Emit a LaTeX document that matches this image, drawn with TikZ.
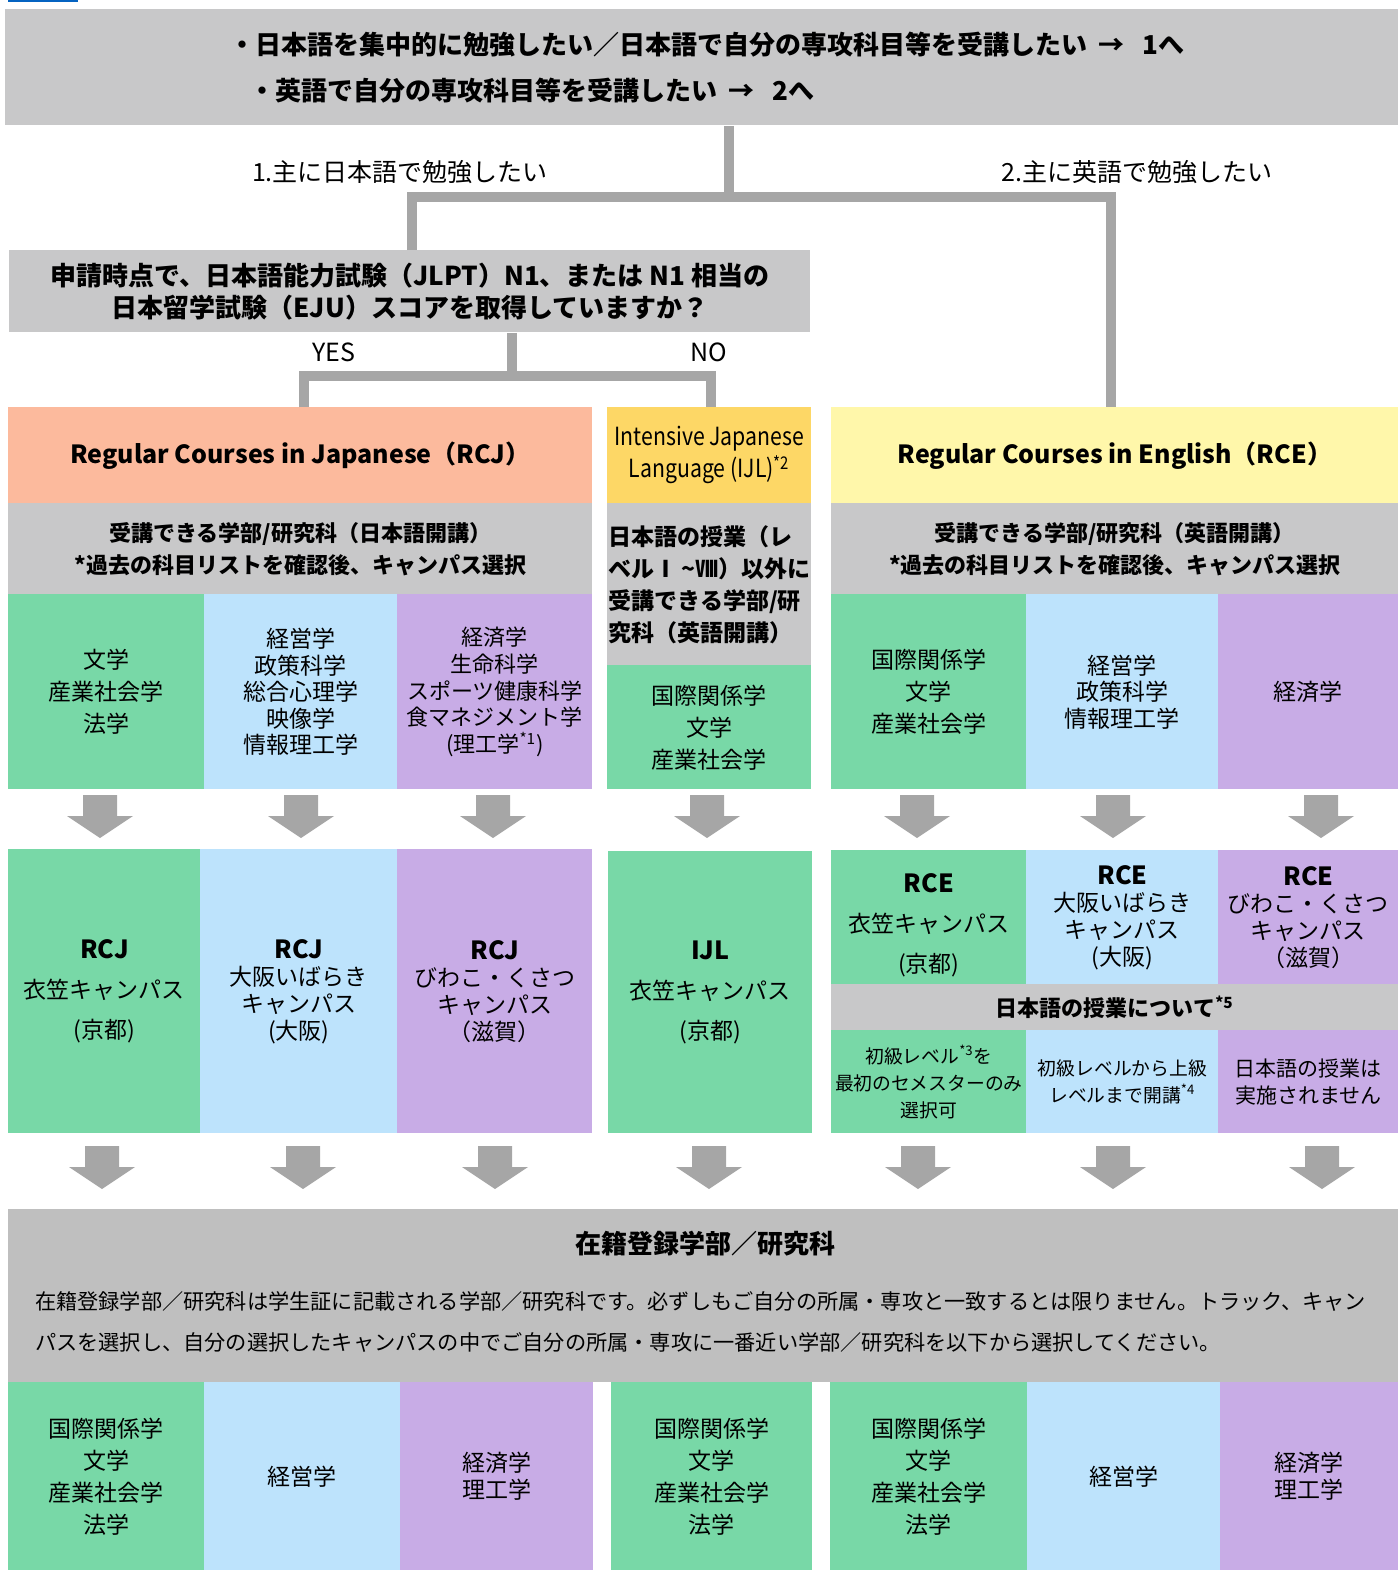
\documentclass[tikz,border=0pt]{standalone}
\usepackage{fontspec}
\setmainfont{Noto Sans CJK JP}
\newfontfamily\narrowfont[FakeStretch=0.85]{Noto Sans CJK JP}
\usetikzlibrary{positioning}

\definecolor{boxgrey}{HTML}{C8C8C9}
\definecolor{notegrey}{HTML}{BFBFBF}
\definecolor{linegrey}{HTML}{A6A6A6}
\definecolor{campgreen}{HTML}{78D8A7}
\definecolor{campblue}{HTML}{BDE3FC}
\definecolor{camppurple}{HTML}{C8ACE6}
\definecolor{rcjsalmon}{HTML}{FCBA9D}
\definecolor{ijlgold}{HTML}{FDD766}
\definecolor{rcecream}{HTML}{FFF7AA}
\definecolor{linkblue}{HTML}{0563C1}

\newcommand{\fs}[2]{\fontsize{#1}{#2}\selectfont}

\begin{document}
\begin{tikzpicture}[x=0.5pt, y=-0.5pt,
    box/.style 2 args={anchor=north west, inner sep=0pt, minimum width=#1*0.5pt, minimum height=#2*0.5pt, align=center},
    conn/.style={draw=linegrey, line width=4.75pt},
    lbl/.style={font=\fs{12.5}{15}},
    head/.style={font=\fs{12.5}{16}\bfseries},
    sub/.style={font=\fs{11}{16}\bfseries},
    dept/.style={font=\fs{11.5}{16}},
    deptn/.style={font=\fs{11.5}{13.3}},
    camp/.style={font=\fs{11.5}{20}},
    campn/.style={font=\fs{11.5}{13.5}},
    jclass/.style={font=\fs{9.4}{13.5}}]
\useasboundingbox (0,0) rectangle (1400,1570);
\fill[linkblue] (8,0) rectangle (78,2);

\node[box={1393}{116}, fill=boxgrey] (top) at (5,9) {};
\node[anchor=west, font=\fs{13}{16}\bfseries] (want1) at (222,45) {・日本語を集中的に勉強したい／日本語で自分の専攻科目等を受講したい\ \ →\ \ \ 1へ};
\node[anchor=west, font=\fs{13}{16}\bfseries] (want2) at (242,91) {・英語で自分の専攻科目等を受講したい\ \ →\ \ \ 2へ};

\node[box={801}{82}, fill=boxgrey, font=\fs{13}{16}\bfseries] (ask) at (9,250) {申請時点で、日本語能力試験（JLPT）N1、または N1 相当の\\日本留学試験（EJU）スコアを取得していますか？};

% first row: tracks
\node[box={584}{96}, fill=rcjsalmon, head] (rcjhead) at (8,407) {Regular Courses in Japanese（RCJ）};
\node[box={584}{91}, fill=boxgrey, sub] (rcjsub) at (8,503) {受講できる学部/研究科（日本語開講）\\*過去の科目リストを確認後、キャンパス選択};
\node[box={196}{195}, fill=campgreen, dept] (rcjg) at (8,594) {文学\\産業社会学\\法学};
\node[box={193}{195}, fill=campblue, deptn] (rcjb) at (204,594) {経営学\\政策科学\\総合心理学\\映像学\\情報理工学};
\node[box={195}{195}, fill=camppurple, font=\fs{11}{13.3}] (rcjp) at (397,594) {経済学\\生命科学\\スポーツ健康科学\\食マネジメント学\\(理工学\textsuperscript{*1})};

\node[box={204}{96}, fill=ijlgold, font=\fs{12.5}{16}\narrowfont] (ijlhead) at (607,407) {Intensive Japanese\\Language (IJL)\textsuperscript{*2}};
\node[box={204}{162}, fill=boxgrey, font=\fs{11.5}{16}\bfseries, align=left] (ijlsub) at (607,503) {日本語の授業（レ\\ベルⅠ\,\textasciitilde Ⅷ）以外に\\受講できる学部/研\\究科（英語開講）};
\node[box={204}{124}, fill=campgreen, dept] (ijlg) at (607,665) {国際関係学\\文学\\産業社会学};

\node[box={567}{96}, fill=rcecream, head] (rcehead) at (831,407) {Regular Courses in English（RCE）};
\node[box={567}{91}, fill=boxgrey, sub] (rcesub) at (831,503) {受講できる学部/研究科（英語開講）\\*過去の科目リストを確認後、キャンパス選択};
\node[box={195}{195}, fill=campgreen, dept] (rceg) at (831,594) {国際関係学\\文学\\産業社会学};
\node[box={192}{195}, fill=campblue, deptn] (rceb) at (1026,594) {経営学\\政策科学\\情報理工学};
\node[box={180}{195}, fill=camppurple, dept] (rcep) at (1218,594) {経済学};

% second row: campuses
\node[box={192}{284}, fill=campgreen, camp] (rcjkin) at (8,849) {{\fs{12.5}{20}\bfseries RCJ}\\衣笠キャンパス\\(京都)};
\node[box={197}{284}, fill=campblue, campn] (rcjoic) at (200,849) {{\fs{12.5}{13.5}\bfseries RCJ}\\大阪いばらき\\キャンパス\\(大阪)};
\node[box={195}{284}, fill=camppurple, campn] (rcjbkc) at (397,849) {{\fs{12.5}{13.5}\bfseries RCJ}\\びわこ・くさつ\\キャンパス\\（滋賀）};
\node[box={204}{282}, fill=campgreen, camp] (ijlkin) at (608,851) {{\fs{12.5}{20}\bfseries IJL}\\衣笠キャンパス\\(京都)};

\node[box={195}{134}, fill=campgreen, camp] (rcekin) at (831,850) {{\fs{12.5}{20}\bfseries\rule{0pt}{17pt}RCE}\\衣笠キャンパス\\(京都)};
\node[box={192}{134}, fill=campblue, campn] (rceoic) at (1026,850) {{\fs{12.5}{13.5}\bfseries RCE}\\大阪いばらき\\キャンパス\\(大阪)};
\node[box={180}{134}, fill=camppurple, campn] (rcebkc) at (1218,850) {{\fs{12.5}{13.5}\bfseries RCE}\\びわこ・くさつ\\キャンパス\\（滋賀）};
\node[box={567}{46}, fill=boxgrey, sub] (jclasshead) at (831,984) {日本語の授業について\textsuperscript{*5}};
\node[box={195}{103}, fill=campgreen, jclass] (jclasskin) at (831,1030) {初級レベル\textsuperscript{*3}を\\最初のセメスターのみ\\選択可};
\node[box={192}{103}, fill=campblue, jclass] (jclassoic) at (1026,1030) {初級レベルから上級\\レベルまで開講\textsuperscript{*4}};
\node[box={180}{103}, fill=camppurple, font=\fs{10.5}{13.5}] (jclassbkc) at (1218,1030) {日本語の授業は\\実施されません};

% enrollment
\node[box={1390}{173}, fill=notegrey] (enrol) at (8,1209) {};
\node[font=\fs{13}{16}\bfseries] (enroltitle) at (705,1244) {在籍登録学部／研究科};
\node[anchor=west, align=left, font=\fs{10.6}{20.5}] (enroltext) at (28,1322) {在籍登録学部／研究科は学生証に記載される学部／研究科です。必ずしもご自分の所属・専攻と一致するとは限りません。トラック、キャン\\パスを選択し、自分の選択したキャンパスの中でご自分の所属・専攻に一番近い学部／研究科を以下から選択してください。};

\node[box={196}{188}, fill=campgreen, dept] (endg) at (8,1382) {国際関係学\\文学\\産業社会学\\法学};
\node[box={196}{188}, fill=campblue, dept] (endb) at (204,1382) {経営学};
\node[box={193}{188}, fill=camppurple, deptn] (endp) at (400,1382) {経済学\\理工学};
\node[box={201}{188}, fill=campgreen, dept] (endijl) at (611,1382) {国際関係学\\文学\\産業社会学\\法学};
\node[box={197}{188}, fill=campgreen, dept] (endeg) at (830,1382) {国際関係学\\文学\\産業社会学\\法学};
\node[box={193}{188}, fill=campblue, dept] (endeb) at (1027,1382) {経営学};
\node[box={178}{188}, fill=camppurple, deptn] (endep) at (1220,1382) {経済学\\理工学};

% connectors
\coordinate (split) at (729,197);
\coordinate (jp) at (412,197);
\coordinate (en) at (1111,197);
\draw[conn] (top.south -| split) -- (split);
\draw[conn] (ask.north -| jp) -- (jp) -- (en) -- (rcehead.north -| en);
\node[lbl] (jplbl) at (400,172) {1.主に日本語で勉強したい};
\node[lbl] (enlbl) at (1137,172) {2.主に英語で勉強したい};

\coordinate (yesno) at (512,376);
\coordinate (yes) at (304,376);
\coordinate (no) at (711,376);
\draw[conn] (ask.south -| yesno) -- (yesno);
\draw[conn] (rcjhead.north -| yes) -- (yes) -- (no) -- (ijlhead.north -| no);
\node[lbl] (yeslbl) at (334,352) {YES};
\node[lbl] (nolbl) at (709,352) {NO};

% block arrows
\foreach \ax in {100,301,493,707,917,1113,1321}
  \fill[linegrey] (\ax-17,795) -- ++(34,0) -- ++(0,21) -- ++(16,0) -- (\ax,838) -- (\ax-33,816) -- ++(16,0) -- cycle;
\foreach \ax in {102,303,495,709,918,1113,1322}
  \fill[linegrey] (\ax-17,1146) -- ++(34,0) -- ++(0,21) -- ++(16,0) -- (\ax,1189) -- (\ax-33,1167) -- ++(16,0) -- cycle;

\end{tikzpicture}
\end{document}
